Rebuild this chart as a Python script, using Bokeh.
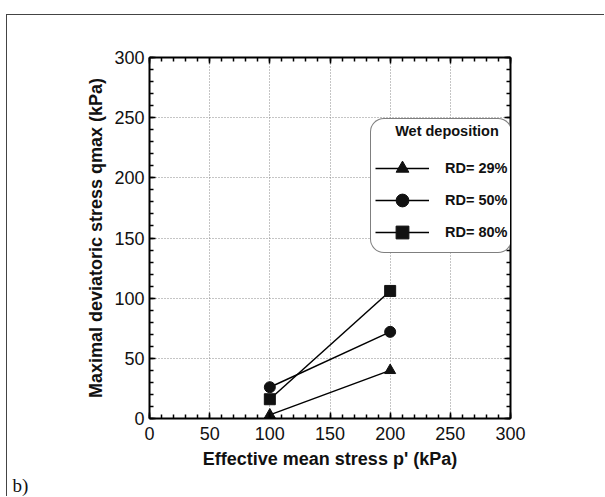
from bokeh.plotting import figure
from bokeh.models import (LinearAxis, SingleIntervalTicker, Legend, LegendItem,
                          Range1d, CustomLabelingPolicy)
from bokeh.embed import file_html
from bokeh.resources import INLINE

# ---- data ----
p_values = [100, 200]
rd29 = [3, 40]
rd50 = [26, 72]
rd80 = [16, 106]
series_values = [rd29, rd50, rd80]
series_labels = ["RD= 29%", "RD= 50%", "RD= 80%"]
series_markers = ["triangle", "circle", "square"]
legend_title = "Wet deposition"
x_title = "Effective mean stress p' (kPa)"
y_title = "Maximal deviatoric stress qmax (kPa)"
panel_tag = "b)"

FONT = "Liberation Sans"
OX, OY = 7, 15  # page offset of the figure canvas (margin + border)

p = figure(width=605 - OX, height=497 - OY, x_range=Range1d(0, 300), y_range=Range1d(0, 300),
           output_backend="svg", toolbar_location=None,
           min_border_left=149 - OX, min_border_right=95, min_border_top=57 - OY,
           min_border_bottom=79, x_axis_label=x_title, y_axis_label=y_title,
           title=panel_tag, title_location="below")
p.outline_line_color = None
p.background_fill_color = "white"
p.border_fill_color = "white"
p.styles = {"margin-left": "6px", "margin-top": "14px",
            "border-left": "1px solid #444444", "border-top": "1px solid #444444"}

p.title.text_font = "Liberation Serif"
p.title.text_font_style = "normal"
p.title.text_font_size = "19px"
p.title.text_color = "#111111"
p.title.align = "left"
p.title.offset = -137
p.title.standoff = 2

no_labels = CustomLabelingPolicy(code="return new Set()")


def style_axis(ax, labels=True):
    ax.ticker = SingleIntervalTicker(interval=50, num_minor_ticks=5)
    ax.axis_line_width = 2
    ax.axis_line_color = "black"
    ax.major_tick_in = 6
    ax.major_tick_out = 0
    ax.minor_tick_in = 4
    ax.minor_tick_out = 0
    ax.major_tick_line_width = 1.5
    ax.minor_tick_line_width = 1.5
    ax.major_tick_line_color = "black"
    ax.minor_tick_line_color = "black"
    ax.major_label_text_font = FONT
    ax.major_label_text_color = "#111111"
    ax.major_label_text_font_size = "18px"
    if not labels:
        ax.major_label_policy = no_labels
        ax.major_label_standoff = 0
    ax.axis_label_text_font = FONT
    ax.axis_label_text_font_style = "bold"
    ax.axis_label_text_font_size = "18px"
    ax.axis_label_text_color = "#111111"


style_axis(p.xaxis[0])
style_axis(p.yaxis[0])
p.xaxis[0].major_label_standoff = 8
p.yaxis[0].major_label_standoff = 5
p.xaxis[0].axis_label_standoff = 6
p.yaxis[0].axis_label_standoff = 5

top_ax = LinearAxis()
style_axis(top_ax, labels=False)
right_ax = LinearAxis()
style_axis(right_ax, labels=False)
p.add_layout(top_ax, "above")
p.add_layout(right_ax, "right")

for g in (p.xgrid[0], p.ygrid[0]):
    g.ticker = SingleIntervalTicker(interval=50)
    g.grid_line_color = "#8a8a8a"
    g.grid_line_dash = "1 2"
    g.grid_line_width = 1

items = []
for ys, lab, mk in zip(series_values, series_labels, series_markers):
    ln = p.line(p_values, ys, line_color="black", line_width=1.5)
    sc = p.scatter(p_values, ys, marker=mk, size=11, fill_color="#111111", line_color="#111111")
    items.append(LegendItem(label=lab, renderers=[ln, sc]))

legend = Legend(items=items, location=(221, 165), glyph_width=54, glyph_height=32,
                spacing=0, label_standoff=16, label_width=62, padding=4, margin=0,
                title="\u00a0\u00a0\u00a0\u00a0\u00a0" + legend_title, title_standoff=13,
                title_text_font=FONT, title_text_font_style="bold",
                title_text_font_size="14.5px", title_text_color="#111111",
                border_line_color="black", border_line_width=1.2,
                background_fill_color="white", background_fill_alpha=1,
                label_text_font=FONT, label_text_font_style="bold",
                label_text_font_size="14.5px", label_text_color="#111111",
                level="overlay")
if "border_radius" in Legend.properties():
    legend.border_radius = 14
p.add_layout(legend)

open("out.html", "w").write(file_html(p, INLINE))
